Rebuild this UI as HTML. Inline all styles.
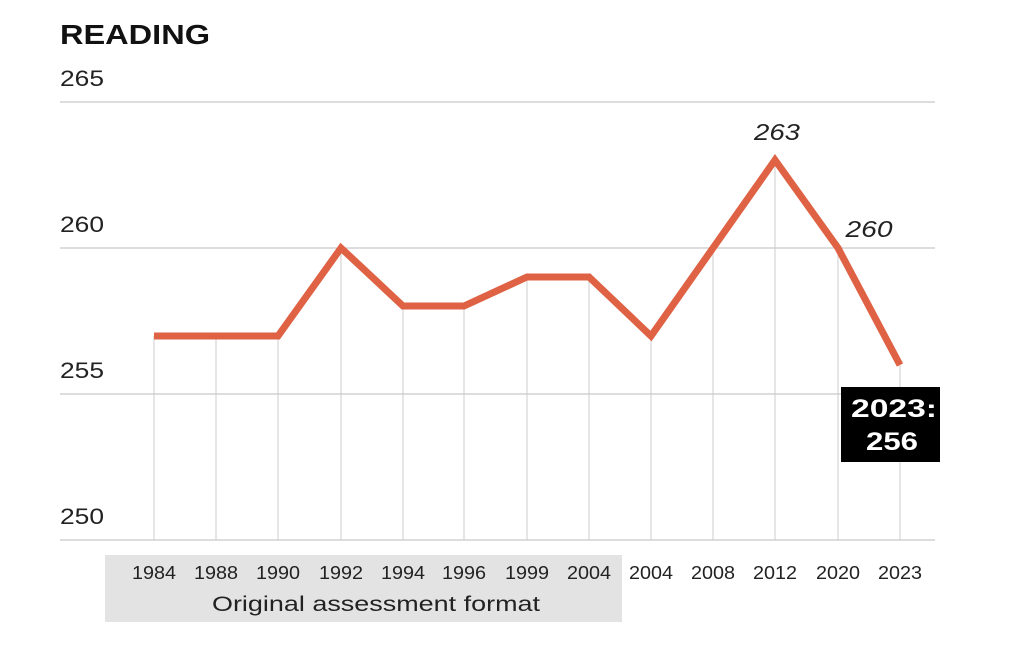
<!DOCTYPE html>
<html><head><style>
body{margin:0;background:#fff;}
svg{display:block;font-family:"Liberation Sans",sans-serif;}
</style></head><body>
<svg width="1024" height="646" viewBox="0 0 1024 646">
<rect x="0" y="0" width="1024" height="646" fill="#fff"/>
<text x="60" y="44" font-size="28" font-weight="bold" fill="#111" textLength="150" lengthAdjust="spacingAndGlyphs">READING</text>
<g stroke="#bbb" stroke-width="1">
<line x1="60" y1="102" x2="935" y2="102"/>
<line x1="60" y1="248" x2="935" y2="248"/>
<line x1="60" y1="394" x2="935" y2="394"/>
<line x1="60" y1="540" x2="935" y2="540"/>
</g>
<g font-size="22" fill="#222">
<text x="60" y="86" textLength="44" lengthAdjust="spacingAndGlyphs">265</text>
<text x="60" y="232" textLength="44" lengthAdjust="spacingAndGlyphs">260</text>
<text x="60" y="378" textLength="44" lengthAdjust="spacingAndGlyphs">255</text>
<text x="60" y="524" textLength="44" lengthAdjust="spacingAndGlyphs">250</text>
</g>
<rect x="105" y="555" width="517" height="67" fill="#e3e3e3"/>
<g stroke="#ccc" stroke-width="1">
<line x1="154" y1="336" x2="154" y2="540"/>
<line x1="216" y1="336" x2="216" y2="540"/>
<line x1="278" y1="336" x2="278" y2="540"/>
<line x1="341" y1="248" x2="341" y2="540"/>
<line x1="403" y1="306" x2="403" y2="540"/>
<line x1="464" y1="306" x2="464" y2="540"/>
<line x1="527" y1="277" x2="527" y2="540"/>
<line x1="589" y1="277" x2="589" y2="540"/>
<line x1="651" y1="336" x2="651" y2="540"/>
<line x1="713" y1="248" x2="713" y2="540"/>
<line x1="775" y1="160" x2="775" y2="540"/>
<line x1="838" y1="248" x2="838" y2="540"/>
<line x1="900" y1="365" x2="900" y2="540"/>
</g>
<polyline fill="none" stroke="#df6245" stroke-width="7" stroke-linejoin="miter" points="154,336 216,336 278,336 341,248 403,306 464,306 527,277 589,277 651,336 713,248 775,160 838,248 900,365"/>
<g font-size="18" fill="#222" text-anchor="middle">
<text x="154" y="579" textLength="44" lengthAdjust="spacingAndGlyphs">1984</text><text x="216" y="579" textLength="44" lengthAdjust="spacingAndGlyphs">1988</text><text x="278" y="579" textLength="44" lengthAdjust="spacingAndGlyphs">1990</text>
<text x="341" y="579" textLength="44" lengthAdjust="spacingAndGlyphs">1992</text><text x="403" y="579" textLength="44" lengthAdjust="spacingAndGlyphs">1994</text><text x="464" y="579" textLength="44" lengthAdjust="spacingAndGlyphs">1996</text>
<text x="527" y="579" textLength="44" lengthAdjust="spacingAndGlyphs">1999</text><text x="589" y="579" textLength="44" lengthAdjust="spacingAndGlyphs">2004</text><text x="651" y="579" textLength="44" lengthAdjust="spacingAndGlyphs">2004</text>
<text x="713" y="579" textLength="44" lengthAdjust="spacingAndGlyphs">2008</text><text x="775" y="579" textLength="44" lengthAdjust="spacingAndGlyphs">2012</text><text x="838" y="579" textLength="44" lengthAdjust="spacingAndGlyphs">2020</text>
<text x="900" y="579" textLength="44" lengthAdjust="spacingAndGlyphs">2023</text>
</g>
<text x="376" y="611" font-size="21" fill="#222" text-anchor="middle" textLength="328" lengthAdjust="spacingAndGlyphs">Original assessment format</text>
<g font-size="23" font-style="italic" fill="#222" text-anchor="middle">
<text x="777" y="140" textLength="46" lengthAdjust="spacingAndGlyphs">263</text>
<text x="869" y="237" textLength="47" lengthAdjust="spacingAndGlyphs">260</text>
</g>
<rect x="841" y="387" width="99" height="75" fill="#000"/>
<g font-size="25" font-weight="bold" fill="#fff" text-anchor="middle">
<text x="894" y="417" textLength="86" lengthAdjust="spacingAndGlyphs">2023:</text>
<text x="892" y="450" textLength="52" lengthAdjust="spacingAndGlyphs">256</text>
</g>
</svg>
</body></html>
